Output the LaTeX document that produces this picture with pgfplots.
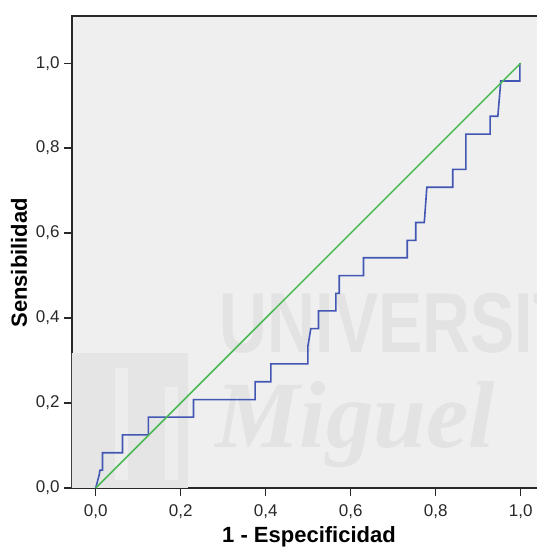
\documentclass[border=0pt]{standalone}
\usepackage{fontspec}
\setmainfont{Liberation Sans}
\newfontfamily\wmserif{Liberation Serif}
\usepackage{pgfplots}
\usepackage{pgfplotstable}
\pgfplotsset{compat=1.18}
\definecolor{rocblue}{RGB}{66,86,180}
\definecolor{rocgreen}{RGB}{72,186,82}
\definecolor{bgc}{RGB}{239,239,239}
\definecolor{wm}{RGB}{227,227,227}
\definecolor{wmbox}{RGB}{229,229,229}
\definecolor{wmlight}{RGB}{237,237,237}
\definecolor{axc}{RGB}{40,40,40}

\pgfplotstableread{
x y
0 0
0.008 0.030
0.010 0.042
0.016 0.042
0.016 0.083
0.063 0.083
0.063 0.125
0.124 0.125
0.124 0.167
0.230 0.167
0.230 0.208
0.375 0.208
0.375 0.250
0.412 0.250
0.412 0.292
0.499 0.292
0.499 0.333
0.506 0.375
0.524 0.375
0.524 0.417
0.565 0.417
0.565 0.458
0.573 0.458
0.573 0.500
0.630 0.500
0.630 0.542
0.733 0.542
0.733 0.583
0.753 0.583
0.753 0.625
0.773 0.625
0.779 0.708
0.840 0.708
0.840 0.750
0.871 0.750
0.871 0.833
0.928 0.833
0.928 0.875
0.946 0.875
0.953 0.958
0.998 0.958
0.998 1.000
}\roc

\begin{document}
\begin{tikzpicture}
\useasboundingbox (-72pt,-62pt) rectangle (465pt,488pt);
\begin{axis}[
  at={(0,0)}, anchor=south west,
  scale only axis, width=472.5pt, height=472pt,
  xmin=-0.0558, xmax=1.0558, ymin=0, ymax=1.111,
  axis background/.style={fill=bgc},
  axis line style={axc, line width=1.3pt},
  xtick={0,0.2,0.4,0.6,0.8,1.0},
  ytick={0,0.2,0.4,0.6,0.8,1.0},
  tick align=outside, xtick pos=bottom, ytick pos=left,
  major tick length=8pt,
  every tick/.style={axc, line width=1.3pt},
  /pgf/number format/use comma,
  /pgf/number format/fixed,
  /pgf/number format/fixed zerofill,
  /pgf/number format/precision=1,
  /pgf/number format/assume math mode=true,
  tick label style={font=\fontsize{17}{17}\selectfont, text=axc},
  xticklabel style={yshift=-5pt},
  yticklabel style={xshift=-1pt},
  xlabel={1 - Especificidad},
  ylabel={Sensibilidad},
  label style={font=\fontsize{22}{22}\selectfont\bfseries, text=black},
  xlabel style={at={(axis description cs:0.5016,0)}, anchor=center, yshift=-49pt},
  ylabel style={at={(axis description cs:0,0.477)}, anchor=center, yshift=53pt},
]
\begin{scope}
\clip (rel axis cs:0,0) rectangle (rel axis cs:1,1);
\fill[wmbox] (axis cs:-0.06,0) rectangle (axis cs:0.217,0.317);
\fill[wmlight] (axis cs:0.046,0.018) rectangle (axis cs:0.076,0.282);
\fill[wmlight] (axis cs:0.163,0.018) rectangle (axis cs:0.194,0.238);
\node[anchor=base west, text=wm, inner sep=0, xscale=0.78,
  font=\fontsize{85}{85}\selectfont\bfseries] at (axis cs:0.292,0.32) {UNIVERSITAS};
\node[anchor=base west, text=wm, inner sep=0,
  font=\fontsize{95}{95}\selectfont\wmserif\bfseries\itshape] at (axis cs:0.281,0.0965) {Miguel};
\end{scope}
\addplot[rocblue, line width=1.6pt, mark=none] table {\roc};
\addplot[rocgreen, line width=1.5pt, mark=none] coordinates {(0,0) (1,1)};
\end{axis}
\end{tikzpicture}
\end{document}
